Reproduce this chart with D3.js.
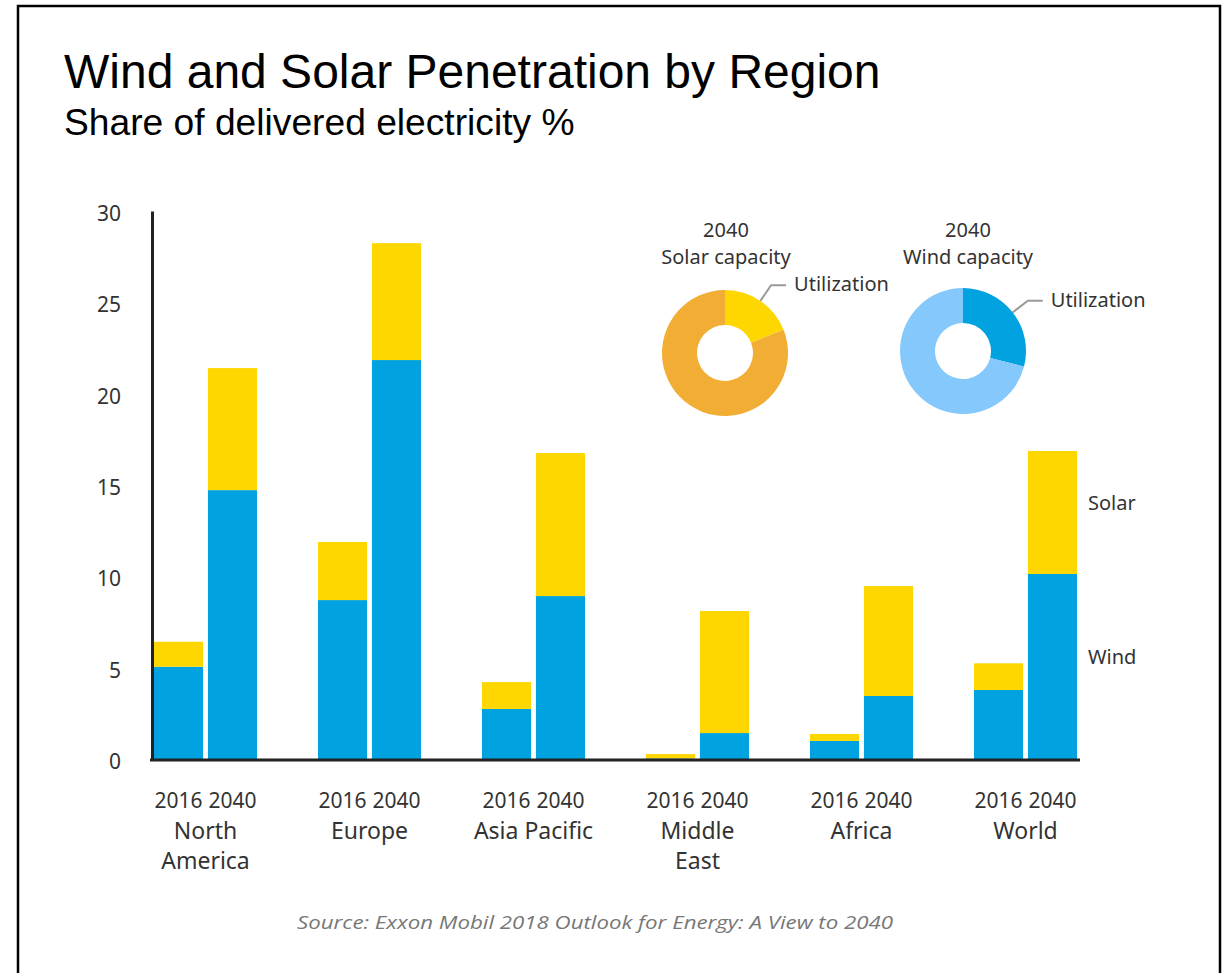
<!DOCTYPE html>
<html>
<head>
<meta charset="utf-8">
<script src="https://cdn.jsdelivr.net/npm/d3@7"></script>
<style>
  html, body { margin: 0; padding: 0; background: #fff; }
  svg { display: block; }
</style>
</head>
<body>
<svg id="chart" width="1222" height="973"></svg>
<script>
// ---------- data ----------
const regions = ["North America", "Europe", "Asia Pacific", "Middle East", "Africa", "World"];
const regionLines = [["North", "America"], ["Europe"], ["Asia Pacific"], ["Middle", "East"], ["Africa"], ["World"]];
const years = ["2016", "2040"];
const wind2016  = [5.05, 8.70, 2.74, 0.03, 0.99, 3.78];
const solar2016 = [1.37, 3.18, 1.47, 0.24, 0.38, 1.46];
const wind2040  = [14.72, 21.84, 8.92, 1.42, 3.45, 10.13];
const solar2040 = [6.68, 6.40, 7.83, 6.68, 6.02, 6.73];
const yTicks = [0, 5, 10, 15, 20, 25, 30];

const donutSlices = ["Utilization", "Unused"];
const solarCapacityShares = [19, 81];
const windCapacityShares = [29, 71];

const titleText = "Wind and Solar Penetration by Region";
const subtitleText = "Share of delivered electricity %";
const sourceText = "Source: Exxon Mobil 2018 Outlook for Energy: A View to 2040";

// ---------- styles ----------
const C = {
  wind: "#00A3DF",
  solar: "#FFD700",
  solarCap: "#F2AD35",
  windCap: "#85C8FB",
  text: "#333333",
  axis: "#222222",
  leader: "#9a9a9a"
};
const labelFont = "'Noto Sans', 'Open Sans', sans-serif";

// ---------- build rows ----------
const rows = [];
regions.forEach((r, i) => {
  rows.push({ region: r, year: "2016", wind: wind2016[i], solar: solar2016[i] });
  rows.push({ region: r, year: "2040", wind: wind2040[i], solar: solar2040[i] });
});

const svg = d3.select("#chart");

// frame
svg.append("rect")
  .attr("x", 18).attr("y", 6).attr("width", 1202).attr("height", 1000)
  .attr("fill", "none").attr("stroke", "#000").attr("stroke-width", 2.5);

// title
svg.append("text")
  .attr("x", 64).attr("y", 88)
  .attr("font-family", "'Liberation Sans', Arial, sans-serif")
  .attr("font-size", 48).attr("fill", "#000")
  .text(titleText);
svg.append("text")
  .attr("x", 64).attr("y", 135)
  .attr("font-family", "'Liberation Sans', Arial, sans-serif")
  .attr("font-size", 37.2).attr("fill", "#000")
  .text(subtitleText);

// ---------- scales ----------
const y = d3.scaleLinear().domain([0, 30]).range([759, 211]);
const x0 = d3.scaleBand().domain(regions).range([154, 1077]).paddingInner(0.372).paddingOuter(0);
const x1 = d3.scaleBand().domain(years).range([0, x0.bandwidth()]).paddingInner(0.09);

// ---------- bars ----------
const stack = d3.stack().keys(["wind", "solar"]);
const series = stack(rows);
const g = svg.append("g");
g.selectAll("g.series")
  .data(series)
  .join("g")
  .attr("class", "series")
  .attr("fill", d => d.key === "wind" ? C.wind : C.solar)
  .selectAll("rect")
  .data(d => d)
  .join("rect")
  .attr("x", d => x0(d.data.region) + x1(d.data.year))
  .attr("width", x1.bandwidth())
  .attr("y", d => y(d[1]))
  .attr("height", d => Math.max(0, y(d[0]) - y(d[1])));

// ---------- axes ----------
const yAxis = d3.axisLeft(y).tickValues(yTicks).tickSize(0).tickSizeOuter(0).tickPadding(31);
const yg = svg.append("g").attr("transform", "translate(152,0)").call(yAxis);
yg.select(".domain").attr("stroke", C.axis).attr("stroke-width", 3);
yg.selectAll(".tick text")
  .attr("font-family", labelFont).attr("font-size", 21).attr("fill", C.text)
  .attr("dy", "0.45em");

// x axis baseline
svg.append("line")
  .attr("x1", x0.range()[0] - 4).attr("x2", x0.range()[1] + 3)
  .attr("y1", y(0) + 1).attr("y2", y(0) + 1)
  .attr("stroke", C.axis).attr("stroke-width", 3);

// year labels
svg.append("g").selectAll("text")
  .data(rows)
  .join("text")
  .attr("x", d => x0(d.region) + x1(d.year) + x1.bandwidth() / 2)
  .attr("y", 808)
  .attr("text-anchor", "middle")
  .attr("font-family", labelFont).attr("font-size", 21).attr("fill", C.text)
  .text(d => d.year);

// region labels
const rg = svg.append("g").selectAll("text")
  .data(regions)
  .join("text")
  .attr("x", d => x0(d) + x0.bandwidth() / 2)
  .attr("y", 839)
  .attr("text-anchor", "middle")
  .attr("font-family", labelFont).attr("font-size", 23).attr("fill", C.text);
rg.each(function (d, i) {
  const t = d3.select(this);
  regionLines[i].forEach((line, k) => {
    t.append("tspan")
      .attr("x", x0(d) + x0.bandwidth() / 2)
      .attr("dy", k === 0 ? 0 : 30)
      .text(line);
  });
});

// series labels at World 2040 bar
const lastRow = rows[rows.length - 1];
const legendX = x0(lastRow.region) + x1(lastRow.year) + x1.bandwidth() + 11;
svg.append("text")
  .attr("x", legendX)
  .attr("y", y(lastRow.wind + lastRow.solar / 2) - 10)
  .attr("dominant-baseline", "central")
  .attr("font-family", labelFont).attr("font-size", 20).attr("fill", C.text)
  .text("Solar");
svg.append("text")
  .attr("x", legendX)
  .attr("y", y(lastRow.wind / 2) - 10)
  .attr("dominant-baseline", "central")
  .attr("font-family", labelFont).attr("font-size", 20).attr("fill", C.text)
  .text("Wind");

// ---------- donuts ----------
const pie = d3.pie().sort(null).value(d => d.v);
const arc = d3.arc().innerRadius(28).outerRadius(63);

function donut(cx, cy, shares, colors, label, titleDx) {
  const gg = svg.append("g").attr("transform", `translate(${cx},${cy})`);
  const data = pie(donutSlices.map((k, i) => ({ k, v: shares[i] })));
  gg.selectAll("path").data(data).join("path")
    .attr("d", arc)
    .attr("fill", (d, i) => colors[i]);
  // leader for utilization
  const u = data[0];
  const mid = (u.startAngle + u.endAngle) / 2;
  const p1 = [Math.sin(mid) * 63, -Math.cos(mid) * 63];
  const p2 = [Math.sin(mid) * 82, -Math.cos(mid) * 82];
  const p3 = [p2[0] + 15, p2[1]];
  gg.append("polyline")
    .attr("points", [p1, p2, p3].map(p => p.join(",")).join(" "))
    .attr("fill", "none").attr("stroke", C.leader).attr("stroke-width", 2);
  gg.append("text")
    .attr("x", p3[0] + 8).attr("y", p3[1] + 6)
    .attr("font-family", labelFont).attr("font-size", 20).attr("fill", C.text)
    .text(donutSlices[0]);
  // title
  const tt = svg.append("text")
    .attr("text-anchor", "middle")
    .attr("font-family", labelFont).attr("font-size", 20).attr("fill", C.text);
  tt.append("tspan").attr("x", cx + titleDx).attr("y", 237).text("2040");
  tt.append("tspan").attr("x", cx + titleDx).attr("y", 264).text(label);
}
donut(725, 353, solarCapacityShares, [C.solar, C.solarCap], "Solar capacity", 1);
donut(963, 351, windCapacityShares, [C.wind, C.windCap], "Wind capacity", 5);

// ---------- source ----------
svg.append("text")
  .attr("x", 595).attr("y", 929)
  .attr("text-anchor", "middle")
  .attr("font-family", "'Open Sans', sans-serif")
  .attr("font-style", "italic")
  .attr("font-size", 18).attr("fill", "#777")
  .attr("textLength", 596).attr("lengthAdjust", "spacingAndGlyphs")
  .text(sourceText);
</script>
</body>
</html>
